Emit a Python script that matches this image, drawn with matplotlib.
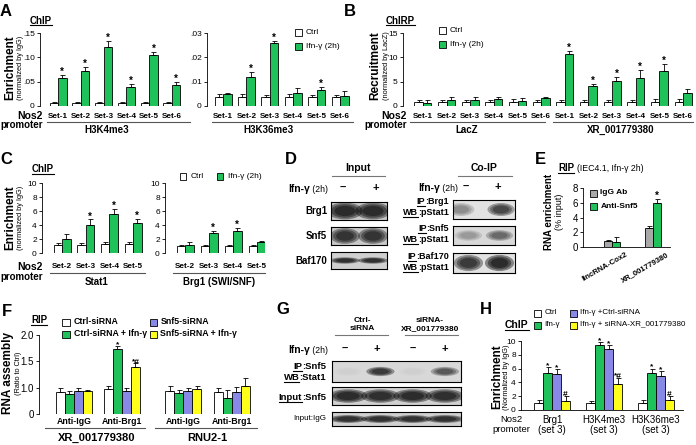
import numpy as np
import matplotlib
matplotlib.use('Agg')
import matplotlib.pyplot as plt
from matplotlib.patches import Rectangle, Ellipse
from matplotlib.lines import Line2D
from matplotlib.transforms import blended_transform_factory

plt.rcParams['font.family'] = ['Liberation Sans', 'DejaVu Sans']
plt.rcParams['axes.linewidth'] = 0.6

W, H = 696, 445
GREEN = '#1fc25a'
PURPLE = '#8888e6'
YELLOW = '#ffff1a'
GRAY = '#a8a8a8'

# ---------------- data ----------------
sets6 = ['Set-1', 'Set-2', 'Set-3', 'Set-4', 'Set-5', 'Set-6']
sets4 = ['Set-2', 'Set-3', 'Set-4', 'Set-5']

# A: ChIP, H3K4me3 / H3K36me3
a_k4_ctrl = [0.0055, 0.0055, 0.0055, 0.0055, 0.0055, 0.0055]
a_k4_ctrl_err = [0.002, 0.002, 0.002, 0.002, 0.002, 0.002]
a_k4_ifn = [0.057, 0.072, 0.121, 0.040, 0.104, 0.043]
a_k4_ifn_err = [0.007, 0.008, 0.013, 0.005, 0.007, 0.006]
a_k4_stars = ['*', '*', '*', '*', '*', '*']
a_k36_ctrl = [0.0036, 0.0036, 0.0036, 0.0036, 0.0036, 0.0036]
a_k36_ctrl_err = [0.0012, 0.0012, 0.0010, 0.0012, 0.0008, 0.0008]
a_k36_ifn = [0.0048, 0.012, 0.026, 0.0055, 0.0066, 0.0042]
a_k36_ifn_err = [0.0007, 0.0021, 0.0009, 0.0018, 0.0013, 0.0021]
a_k36_stars = ['', '*', '*', '', '*', '']

# B: ChIRP, LacZ then XR_001779380 probes
b_ctrl = [0.9, 0.9, 0.9, 0.9, 0.9, 0.9, 0.9, 0.9, 0.9, 0.9, 0.9, 0.9]
b_ctrl_err = [0.4, 0.4, 0.4, 0.4, 0.5, 0.4, 0.4, 0.4, 0.4, 0.4, 0.6, 0.5]
b_ifn = [0.6, 1.2, 1.2, 1.4, 1.0, 1.6, 10.6, 4.1, 5.1, 5.7, 7.2, 2.6]
b_ifn_err = [0.6, 0.7, 0.7, 0.5, 0.7, 0.2, 0.7, 0.5, 0.9, 1.7, 1.5, 0.9]
b_stars = ['', '', '', '', '', '', '*', '*', '*', '*', '*', '']

# C: ChIP, Stat1 / Brg1
c_stat1_ctrl = [1.1, 1.1, 1.3, 1.3]
c_stat1_ctrl_err = [0.3, 0.3, 0.3, 0.3]
c_stat1_ifn = [2.0, 4.0, 5.6, 4.3]
c_stat1_ifn_err = [0.7, 0.8, 0.7, 0.6]
c_stat1_stars = ['', '*', '*', '*']
c_brg1_ctrl = [1.0, 1.0, 1.0, 1.0]
c_brg1_ctrl_err = [0.2, 0.1, 0.1, 0.2]
c_brg1_ifn = [1.2, 2.8, 3.2, 1.6]
c_brg1_ifn_err = [0.4, 0.4, 0.4, 0.15]
c_brg1_stars = ['', '*', '*', '']

# D: western blot band strengths (0-1), lanes: Ifn- , Ifn+
d_input_brg1 = [0.95, 0.95]
d_input_snf5 = [0.85, 0.85]
d_input_baf170 = [0.9, 0.9]
d_coip_brg1 = [0.35, 0.75]
d_coip_snf5 = [0.25, 0.5]
d_coip_baf170 = [0.85, 1.0]

# E: RIP
e_cats = ['lincRNA-Cox2', 'XR_001779380']
e_igg = [0.8, 2.6]
e_igg_err = [0.2, 0.3]
e_snf5 = [0.7, 5.9]
e_snf5_err = [0.6, 0.6]
e_stars = ['', '*']

# F: RIP, 4 groups x 4 conditions
f_groups = ['Anti-IgG', 'Anti-Brg1', 'Anti-IgG', 'Anti-Brg1']
f_ctrl = [0.92, 0.98, 0.94, 0.92]
f_ctrl_err = [0.08, 0.06, 0.10, 0.08]
f_ctrl_ifn = [0.88, 1.74, 0.90, 0.81]
f_ctrl_ifn_err = [0.06, 0.05, 0.06, 0.15]
f_snf5 = [0.94, 0.94, 0.94, 0.92]
f_snf5_err = [0.06, 0.06, 0.05, 0.10]
f_snf5_ifn = [0.93, 1.40, 0.98, 1.03]
f_snf5_ifn_err = [0.03, 0.06, 0.05, 0.16]
f_ctrl_ifn_marks = ['', '*', '', '']
f_snf5_ifn_marks = ['', '*#', '', '']

# G: western blot, lanes: Ctrl-siRNA -/+ , siRNA-XR -/+
g_ip_stat1 = [0.03, 0.85, 0.03, 0.6]
g_input_snf5 = [0.95, 0.92, 0.95, 0.92]
g_input_igg = [0.9, 0.9, 0.9, 0.9]

# H: ChIP
h_cats = ['Brg1', 'H3K4me3', 'H3K36me3']
h_ctrl = [1.0, 1.0, 1.0]
h_ctrl_err = [0.4, 0.3, 0.4]
h_ifn = [5.4, 9.4, 5.3]
h_ifn_err = [0.8, 0.5, 0.7]
h_ifn_sirc = [5.2, 8.8, 5.0]
h_ifn_sirc_err = [0.7, 0.6, 0.6]
h_ifn_sixr = [1.3, 3.8, 1.4]
h_ifn_sixr_err = [0.8, 0.8, 0.6]
h_ifn_marks = ['*', '*', '*']
h_sirc_marks = ['*', '*', '*']
h_sixr_marks = ['#', '*#', '#']

fig = plt.figure(figsize=(W / 100, H / 100), dpi=100)
R = fig.canvas.get_renderer()


def txt(x, y, s, **kw):
    return fig.text(x / W, 1 - y / H, s, **kw)


def hline(x0, x1, y, lw=0.8, c='#555555'):
    fig.add_artist(Line2D([x0 / W, x1 / W], [1 - y / H, 1 - y / H], color=c, lw=lw))


def utxt(x, y, s, fs, ha='left', weight='bold'):
    # text with underline; y is the baseline
    t = txt(x, y, s, fontsize=fs, weight=weight, ha=ha, va='baseline')
    bb = t.get_window_extent(renderer=R)
    hline(bb.x0, bb.x1, y + 1.8, lw=0.8, c='black')
    return bb


def ulabel(xr, y, pre, rest, fs, weight='bold'):
    t = txt(xr, y, rest, fontsize=fs, weight=weight, ha='right', va='baseline')
    bb = t.get_window_extent(renderer=R)
    utxt(bb.x0, y, pre, fs, ha='right', weight=weight)


def ifn_label(xr, y, fs=7.5):
    t = txt(xr, y, ' (2h)', fontsize=fs - 1.3, ha='right', va='baseline')
    bb = t.get_window_extent(renderer=R)
    txt(bb.x0, y, 'Ifn-γ', fontsize=fs, weight='bold', ha='right', va='baseline')


def swatch(x, y, color, label, fs=6, weight='normal', s=7):
    fig.add_artist(Rectangle(((x - s / 2) / W, 1 - (y + s / 2) / H), s / W, s / H,
                             facecolor=color, edgecolor='black', linewidth=0.6))
    txt(x + s / 2 + 4, y, label, fontsize=fs, weight=weight, va='center')


def ylab(x, y, main, sub, fs=8.5, sfs=5.3, gap=11):
    txt(x, y, main, fontsize=fs, weight='bold', rotation=90, ha='center', va='center')
    txt(x + gap, y, sub, fontsize=sfs, rotation=90, ha='center', va='center')


def axes_grp(x0, y0, x1, y1, c0, sp, baseline=False):
    ax = fig.add_axes([x0 / W, 1 - y1 / H, (x1 - x0) / W, (y1 - y0) / H])
    ax.set_xlim((x0 - c0) / sp, (x1 - c0) / sp)
    ax.patch.set_alpha(0)
    for s in ['top', 'right']:
        ax.spines[s].set_visible(False)
    ax.spines['bottom'].set_visible(baseline)
    ax.set_xticks([])
    ax.tick_params(axis='y', length=2.5, width=0.6, labelsize=6, pad=1.2)
    return ax


def bars(ax, x, vals, errs, color, w):
    n = len(vals)
    ax.bar(x, vals, w, color=color, edgecolor='black', linewidth=0.6,
           yerr=[np.zeros(n), errs],
           error_kw=dict(elinewidth=0.6, capsize=1.8, capthick=0.6, ecolor='black'), zorder=2)


def marks(ax, x, vals, errs, labels, fs=7):
    for xi, v, e, s in zip(x, vals, errs, labels):
        if s:
            ax.annotate(s, (xi, v + e), xytext=(0, -1.5), textcoords='offset points',
                        ha='center', va='bottom', fontsize=fs, weight='bold',
                        annotation_clip=False)


def under(ax, x, ypx, labels, **kw):
    tr = blended_transform_factory(ax.transData, fig.transFigure)
    for xi, s in zip(x, labels):
        ax.text(xi, 1 - ypx / H, s, transform=tr, ha='center', va='center', **kw)


def pair(ax, ctrl, ctrl_err, trt, trt_err, stars, wpx, sp, color=GREEN, c0='white'):
    x = np.arange(len(ctrl))
    w = wpx / sp
    bars(ax, x - w / 2, ctrl, ctrl_err, c0, w)
    bars(ax, x + w / 2, trt, trt_err, color, w)
    marks(ax, x + w / 2, trt, trt_err, stars)
    return x


def blot(x0, y0, x1, y1, vals, bw=0.8, bh=0.55, bg='#d6d6d6', dx=None):
    ax = fig.add_axes([x0 / W, 1 - y1 / H, (x1 - x0) / W, (y1 - y0) / H])
    ax.set_xlim(0, len(vals))
    ax.set_ylim(0, 1)
    ax.set_facecolor(bg)
    ax.set_xticks([])
    ax.set_yticks([])
    for s in ax.spines.values():
        s.set_linewidth(0.8)
    for i, v in enumerate(vals):
        cx = i + 0.5 + (dx[i] if dx else 0)
        for sc in [1.25, 1.0, 0.75]:
            ax.add_patch(Ellipse((cx, 0.5), bw * sc, bh * sc, facecolor='black',
                                 alpha=v * 0.42, lw=0))
    return ax


SET_FS = 5.9
PROM_FS = 7

# ================= A =================
txt(0, 12, 'A', fontsize=12, weight='bold', va='center')
utxt(30, 23.5, 'ChIP', 7)
ylab(10, 68, 'Enrichment', '(normalized by IgG)')

ax = axes_grp(40, 33, 190, 106, 58, 22.8)
ax.set_ylim(0, 0.15)
ax.set_yticks([0, 0.05, 0.10, 0.15])
ax.set_yticklabels(['0', '.05', '.10', '.15'])
x = pair(ax, a_k4_ctrl, a_k4_ctrl_err, a_k4_ifn, a_k4_ifn_err, a_k4_stars, 8.5, 22.8)
under(ax, x, 116, sets6, fontsize=SET_FS, weight='bold')

ax = axes_grp(207, 33, 353, 106, 223, 23.4)
ax.set_ylim(0, 0.03)
ax.set_yticks([0, 0.01, 0.02, 0.03])
ax.set_yticklabels(['0', '.01', '.02', '.03'])
x = pair(ax, a_k36_ctrl, a_k36_ctrl_err, a_k36_ifn, a_k36_ifn_err, a_k36_stars, 8.5, 23.4)
under(ax, x, 116, sets6, fontsize=SET_FS, weight='bold')

txt(43, 116, 'Nos2', fontsize=PROM_FS + 0.5, weight='bold', ha='right', va='center')
txt(43, 125.5, 'promoter', fontsize=PROM_FS, weight='bold', ha='right', va='center')
hline(47, 190, 121.5)
hline(212, 353, 121.5)
txt(107, 130, 'H3K4me3', fontsize=7, weight='bold', ha='center', va='center')
txt(268, 130, 'H3K36me3', fontsize=7, weight='bold', ha='center', va='center')
swatch(298, 32, 'white', 'Ctrl')
swatch(298, 46, GREEN, 'Ifn-γ (2h)')

# ================= B =================
txt(344, 12, 'B', fontsize=12, weight='bold', va='center')
utxt(386, 23.5, 'ChIRP', 7)
ylab(375, 66, 'Recruitment', '(normalized by LacZ)')
ax = axes_grp(403, 33, 693, 106, 423, 23.64)
ax.set_ylim(0, 15)
ax.set_yticks([0, 5, 10, 15])
x = pair(ax, b_ctrl, b_ctrl_err, b_ifn, b_ifn_err, b_stars, 8.5, 23.64)
under(ax, x, 116, sets6 + sets6, fontsize=SET_FS, weight='bold')
txt(407, 116, 'Nos2', fontsize=PROM_FS + 0.5, weight='bold', ha='right', va='center')
txt(407, 125.5, 'promoter', fontsize=PROM_FS, weight='bold', ha='right', va='center')
hline(410, 545, 121.5)
hline(553, 693, 121.5)
txt(467, 130, 'LacZ', fontsize=7, weight='bold', ha='center', va='center')
txt(621, 130, 'XR_001779380', fontsize=7, weight='bold', ha='center', va='center')
swatch(442, 30, 'white', 'Ctrl')
swatch(442, 44, GREEN, 'Ifn-γ (2h)')

# ================= C =================
txt(0, 159, 'C', fontsize=12, weight='bold', va='center')
utxt(32, 172, 'ChIP', 7)
ylab(10, 218, 'Enrichment', '(normalized by IgG)')
for box, c0, sp, cv, ce, tv, te, st in [
        ((42, 183, 145, 253), 62, 23.7, c_stat1_ctrl, c_stat1_ctrl_err, c_stat1_ifn, c_stat1_ifn_err, c_stat1_stars),
        ((165, 183, 265, 253), 185, 24, c_brg1_ctrl, c_brg1_ctrl_err, c_brg1_ifn, c_brg1_ifn_err, c_brg1_stars)]:
    ax = axes_grp(*box, c0, sp)
    ax.set_ylim(0, 10)
    ax.set_yticks([0, 2, 4, 6, 8, 10])
    x = pair(ax, cv, ce, tv, te, st, 8.5, sp)
    under(ax, x, 266.5, sets4, fontsize=SET_FS, weight='bold')
txt(43, 267, 'Nos2', fontsize=PROM_FS + 0.5, weight='bold', ha='right', va='center')
txt(43, 276.5, 'promoter', fontsize=PROM_FS, weight='bold', ha='right', va='center')
hline(50, 145, 273)
hline(173, 265, 273)
txt(97, 282, 'Stat1', fontsize=7, weight='bold', ha='center', va='center')
txt(219, 282, 'Brg1 (SWI/SNF)', fontsize=7, weight='bold', ha='center', va='center')
swatch(183, 176, 'white', 'Ctrl')
swatch(220, 176, GREEN, 'Ifn-γ (2h)')

# ================= D =================
txt(285, 159, 'D', fontsize=12, weight='bold', va='center')
txt(358, 168, 'Input', fontsize=7.5, weight='bold', ha='center', va='center')
hline(332, 385, 175.5, c='#777777')
txt(484, 168, 'Co-IP', fontsize=7.5, weight='bold', ha='center', va='center')
hline(458, 512, 175.5, c='#777777')
ifn_label(328, 192)
txt(343, 188, '–', fontsize=8, weight='bold', ha='center', va='center')
txt(376, 188, '+', fontsize=8, weight='bold', ha='center', va='center')
ifn_label(458, 191)
txt(466, 187, '–', fontsize=8, weight='bold', ha='center', va='center')
txt(498, 187, '+', fontsize=8, weight='bold', ha='center', va='center')

blot(331, 202, 387, 220, d_input_brg1, bw=1.0, bh=0.75, bg='#c8c8c8')
blot(331, 227, 387, 245, d_input_snf5, bw=0.85, bh=0.7, bg='#c8c8c8')
blot(331, 252, 387, 269, d_input_baf170, bw=0.85, bh=0.3, bg='#d0d0d0')
txt(327, 211, 'Brg1', fontsize=7, weight='bold', ha='right', va='center')
txt(327, 236, 'Snf5', fontsize=7, weight='bold', ha='right', va='center')
txt(327, 261, 'Baf170', fontsize=7, weight='bold', ha='right', va='center')

blot(453, 200, 515, 219, d_coip_brg1, bw=0.7, bh=0.55, bg='#e2e2e2', dx=[-0.25, 0.05])
blot(453, 226, 515, 245, d_coip_snf5, bw=0.7, bh=0.45, bg='#d8d8d8')
blot(453, 253, 515, 273, d_coip_baf170, bw=0.75, bh=0.65, bg='#e2e2e2')
for yy, ip in [(204, 'Brg1'), (231, 'Snf5'), (259, 'Baf170')]:
    ulabel(449, yy, 'IP', ':' + ip, 6.5)
    ulabel(449, yy + 11, 'WB', ':pStat1', 6.5)

# ================= E =================
txt(535, 159, 'E', fontsize=12, weight='bold', va='center')
bb = utxt(558, 171, 'RIP', 7)
txt(bb.x1 + 3, 171, '(IEC4.1, Ifn-γ 2h)', fontsize=6.3, va='baseline')
txt(549, 212, 'RNA enrichment', fontsize=7, weight='bold', rotation=90, ha='center', va='center')
txt(559, 212, '(% input)', fontsize=6.5, rotation=90, ha='center', va='center')
ax = axes_grp(583, 188, 670, 247, 612, 41, baseline=True)
ax.set_ylim(0, 8)
ax.set_yticks([0, 2, 4, 6, 8])
ax.tick_params(axis='y', labelsize=7)
x = pair(ax, e_igg, e_igg_err, e_snf5, e_snf5_err, e_stars, 8, 41, c0=GRAY)
tr = blended_transform_factory(ax.transData, fig.transFigure)
for xi, s in zip(x, e_cats):
    ax.text(xi + 0.33, 1 - 251 / H, s, transform=tr, rotation=30, rotation_mode='anchor',
            ha='right', va='top', fontsize=5.6, weight='bold')
swatch(593, 193, GRAY, 'IgG Ab', fs=6, weight='bold')
swatch(593, 206, GREEN, 'Anti-Snf5', fs=6, weight='bold')

# ================= F =================
txt(2, 312, 'F', fontsize=12, weight='bold', va='center')
utxt(31, 323, 'RIP', 7)
ylab(8, 373, 'RNA assembly', '(Ratio to Ctrl)', gap=10)
f_pos = np.array([0, 1, 2.28, 3.29])
ax = axes_grp(39, 335, 257, 414, 74, 48)
ax.set_ylim(0.5, 2.0)
ax.set_yticks([0.5, 1.0, 1.5, 2.0])
ax.set_yticklabels(['0', '1.0', '1.5', '2.0'])
ax.tick_params(axis='y', labelsize=7)
fw = 9 / 48
for k, (v, e, c) in enumerate([(f_ctrl, f_ctrl_err, 'white'), (f_ctrl_ifn, f_ctrl_ifn_err, GREEN),
                                (f_snf5, f_snf5_err, PURPLE), (f_snf5_ifn, f_snf5_ifn_err, YELLOW)]):
    bars(ax, f_pos + (k - 1.5) * fw, v, e, c, fw)
marks(ax, f_pos - 0.5 * fw, f_ctrl_ifn, f_ctrl_ifn_err, f_ctrl_ifn_marks, fs=6)
marks(ax, f_pos + 1.5 * fw, f_snf5_ifn, f_snf5_ifn_err, f_snf5_ifn_marks, fs=6)
under(ax, f_pos, 421, f_groups, fontsize=6.3, weight='bold')
hline(45, 145, 427.5)
hline(155, 257, 427.5)
txt(97, 438, 'XR_001779380', fontsize=8, weight='bold', ha='center', va='center')
txt(207, 438, 'RNU2-1', fontsize=8, weight='bold', ha='center', va='center')
swatch(66, 322, 'white', 'Ctrl-siRNA', fs=6.3, weight='bold')
swatch(66, 334, GREEN, 'Ctrl-siRNA + Ifn-γ', fs=6.3, weight='bold')
swatch(153, 322, PURPLE, 'Snf5-siRNA', fs=6.3, weight='bold')
swatch(153, 334, YELLOW, 'Snf5-siRNA + Ifn-γ', fs=6.3, weight='bold')

# ================= G =================
txt(276, 309, 'G', fontsize=12, weight='bold', va='center')
txt(362, 321, 'Ctrl-', fontsize=6, weight='bold', ha='center', va='center')
txt(362, 328.5, 'siRNA', fontsize=6, weight='bold', ha='center', va='center')
hline(335, 388, 335, c='#777777')
txt(430, 321, 'siRNA-', fontsize=6, weight='bold', ha='center', va='center')
txt(430, 328.5, 'XR_001779380', fontsize=6, weight='bold', ha='center', va='center')
hline(405, 458, 335, c='#777777')
ifn_label(328, 353)
for xs, s in [(345, '–'), (377, '+'), (413, '–'), (445, '+')]:
    txt(xs, 349, s, fontsize=8, weight='bold', ha='center', va='center')
blot(332, 361, 461, 382, g_ip_stat1, bw=0.7, bh=0.35, bg='#d8d8d8')
blot(332, 387, 461, 405, g_input_snf5, bw=0.95, bh=0.6, bg='#d0d0d0')
blot(332, 412, 461, 426, g_input_igg, bw=0.95, bh=0.45, bg='#d0d0d0')
ulabel(326, 369, 'IP', ':Snf5', 6.8)
ulabel(326, 380, 'WB', ':Stat1', 6.8)
ulabel(326, 400, 'Input', ':Snf5', 6.8)
txt(326, 419, 'Input:IgG', fontsize=5.8, ha='right', va='center')

# ================= H =================
txt(480, 309, 'H', fontsize=12, weight='bold', va='center')
swatch(537, 313, 'white', 'Ctrl', fs=5.8)
swatch(537, 325, GREEN, 'Ifn-γ', fs=5.8)
swatch(573, 313, PURPLE, 'Ifn-γ +Ctrl-siRNA', fs=5.8)
swatch(573, 325, YELLOW, 'Ifn-γ + siRNA-XR_001779380', fs=5.8)
utxt(505, 328, 'ChIP', 7.5)
ylab(497, 377, 'Enrichment', '(Normalized by IgG)', gap=9)
h_pos = np.arange(3)
ax = axes_grp(521, 341, 683, 410, 552, 52, baseline=True)
ax.set_ylim(0, 10)
ax.set_yticks([0, 2, 4, 6, 8, 10])
hw = 9 / 52
for k, (v, e, c) in enumerate([(h_ctrl, h_ctrl_err, 'white'), (h_ifn, h_ifn_err, GREEN),
                                (h_ifn_sirc, h_ifn_sirc_err, PURPLE), (h_ifn_sixr, h_ifn_sixr_err, YELLOW)]):
    bars(ax, h_pos + (k - 1.5) * hw, v, e, c, hw)
marks(ax, h_pos - 0.5 * hw, h_ifn, h_ifn_err, h_ifn_marks, fs=6)
marks(ax, h_pos + 0.5 * hw, h_ifn_sirc, h_ifn_sirc_err, h_sirc_marks, fs=6)
marks(ax, h_pos + 1.5 * hw, h_ifn_sixr, h_ifn_sixr_err, h_sixr_marks, fs=6)
under(ax, h_pos, 420, h_cats, fontsize=7)
under(ax, h_pos, 430, ['(set 3)'] * 3, fontsize=7)
txt(511, 420, 'Nos2', fontsize=6.8, ha='center', va='center')
txt(511, 430, 'promoter', fontsize=6.8, ha='center', va='center')

fig.savefig('out.png', dpi=100)
